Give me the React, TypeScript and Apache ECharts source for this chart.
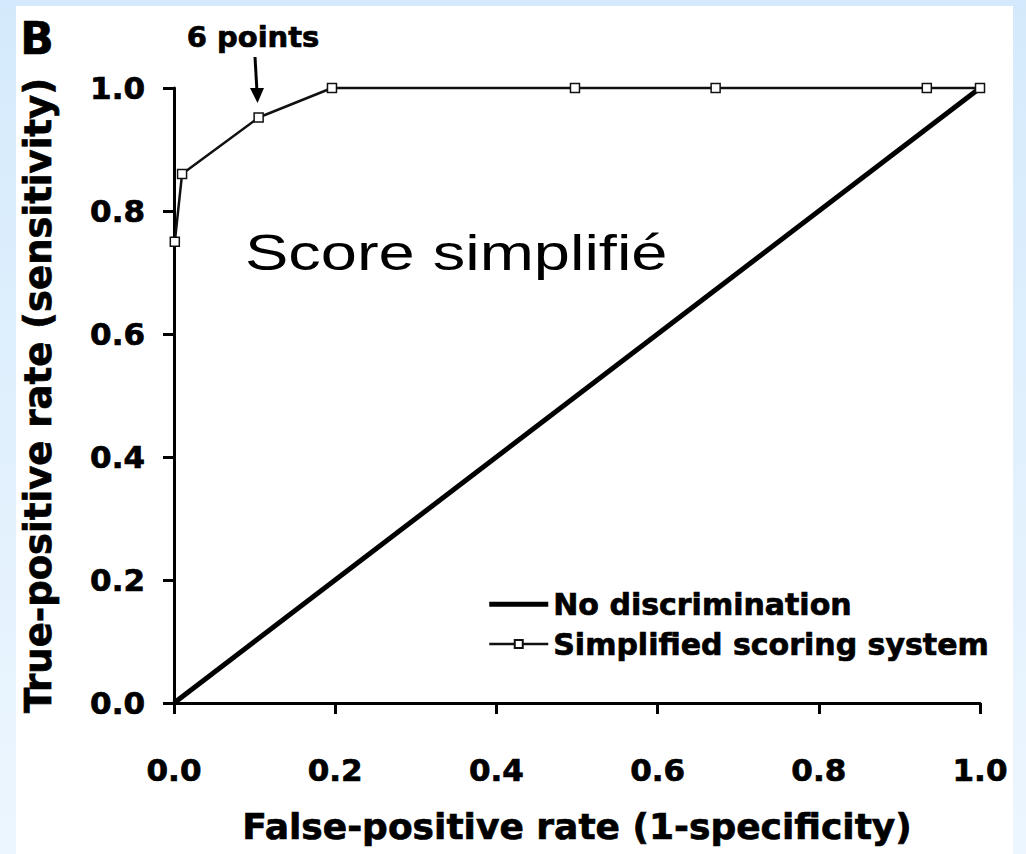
import React, { useEffect, useRef } from "react";
import * as echarts from "echarts";

const xTicks = [0, 0.2, 0.4, 0.6, 0.8, 1.0];
const noDiscrimination: [number, number][] = [
  [0, 0],
  [1, 1],
];
const simplifiedFpr = [0.001, 0.01, 0.105, 0.196, 0.4975, 0.672, 0.934, 1.0];
const simplifiedTpr = [0.75, 0.86, 0.952, 1.0, 1.0, 1.0, 1.0, 1.0];
const seriesNames = ["No discrimination", "Simplified scoring system"];
const axisTitles = ["False-positive rate (1-specificity)", "True-positive rate (sensitivity)"];
const annotation = "6 points";
const panelLabel = "B";
const overlayTitle = "Score simplifié";

const BOLD = "'DejaVu Sans', sans-serif";
const heavy = { textBorderColor: "#000", textBorderWidth: 0.7 };

export default function App() {
  const ref = useRef<HTMLDivElement>(null);
  useEffect(() => {
    document.body.style.margin = "0";
    const chart = echarts.init(ref.current!, null, { renderer: "svg" });
    const simplified = simplifiedFpr.map((x, i) => [x, simplifiedTpr[i]]);
    chart.setOption({
      animation: false,
      backgroundColor: {
        type: "linear",
        x: 0,
        y: 0,
        x2: 0,
        y2: 1,
        colorStops: [
          { offset: 0, color: "#d4eafc" },
          { offset: 1, color: "#edf6fe" },
        ],
      },
      graphic: [
        {
          type: "rect",
          z: -10,
          silent: true,
          shape: { x: 16, y: 6, width: 997, height: 860 },
          style: { fill: "#ffffff" },
        },
        {
          type: "text",
          left: 20,
          top: 16,
          style: {
            text: panelLabel,
            font: `bold 44px ${BOLD}`,
            fill: "#000",
            stroke: "#000",
            lineWidth: 0.7,
          },
        },
        {
          type: "text",
          x: 253,
          y: 37,
          style: {
            text: annotation,
            font: `bold 29px ${BOLD}`,
            fill: "#000",
            stroke: "#000",
            lineWidth: 0.7,
            align: "center",
            verticalAlign: "middle",
          },
        },
        {
          type: "line",
          shape: { x1: 255, y1: 57, x2: 257, y2: 92 },
          style: { stroke: "#000", lineWidth: 3 },
        },
        {
          type: "polygon",
          shape: {
            points: [
              [250, 88],
              [264, 88],
              [257.5, 103],
            ],
          },
          style: { fill: "#000" },
        },
        {
          type: "text",
          x: 245,
          y: 253,
          scaleX: 1.3,
          style: {
            text: overlayTitle,
            font: "50px 'Liberation Sans', Arial, sans-serif",
            fill: "#000",
            align: "left",
            verticalAlign: "middle",
          },
        },
      ],
      legend: {
        orient: "vertical",
        left: 483,
        top: 584,
        itemWidth: 59,
        itemHeight: 10,
        itemGap: 9,
        lineStyle: { width: "inherit" },
        data: [
          {
            name: seriesNames[0],
            icon: "path://M0 0H118V10H0Z",
            itemStyle: { color: "#000", borderWidth: 0 },
          },
          { name: seriesNames[1] },
        ],
        textStyle: {
          fontFamily: BOLD,
          fontWeight: "bold",
          fontSize: 30,
          color: "#000",
          padding: [0, 0, 0, 0],
          ...heavy,
        },
      },
      grid: { left: 174, right: 46, top: 88, bottom: 151 },
      xAxis: {
        type: "value",
        min: 0,
        max: 1,
        interval: 0.2,
        name: axisTitles[0],
        nameLocation: "middle",
        nameGap: 105,
        nameTextStyle: { fontFamily: BOLD, fontWeight: "bold", fontSize: 36, color: "#000", ...heavy },
        axisLine: { show: true, onZero: false, lineStyle: { color: "#000", width: 3 } },
        axisTick: { show: true, length: 11, lineStyle: { color: "#000", width: 3 } },
        axisLabel: {
          margin: 51,
          fontFamily: BOLD,
          fontWeight: "bold",
          fontSize: 31,
          color: "#000",
          ...heavy,
          formatter: (v: number) => (xTicks.includes(Math.round(v * 10) / 10) ? v.toFixed(1) : ""),
        },
        splitLine: { show: false },
      },
      yAxis: {
        type: "value",
        min: 0,
        max: 1,
        interval: 0.2,
        name: axisTitles[1],
        nameLocation: "middle",
        nameRotate: 90,
        nameGap: 117,
        nameTextStyle: { fontFamily: BOLD, fontWeight: "bold", fontSize: 37, color: "#000", ...heavy },
        axisLine: { show: true, onZero: false, lineStyle: { color: "#000", width: 3 } },
        axisTick: { show: true, length: 11, lineStyle: { color: "#000", width: 3 } },
        axisLabel: {
          margin: 29,
          fontFamily: BOLD,
          fontWeight: "bold",
          fontSize: 31,
          color: "#000",
          ...heavy,
          formatter: (v: number) => v.toFixed(1),
        },
        splitLine: { show: false },
      },
      series: [
        {
          name: seriesNames[0],
          type: "line",
          data: noDiscrimination,
          symbol: "none",
          lineStyle: { color: "#000", width: 5 },
          itemStyle: { color: "#000" },
          z: 2,
        },
        {
          name: seriesNames[1],
          type: "line",
          data: simplified,
          symbol: "rect",
          symbolSize: 9,
          showAllSymbol: true,
          clip: false,
          lineStyle: { color: "#111", width: 2.5 },
          itemStyle: { color: "#fff", borderColor: "#111", borderWidth: 1.5 },
          z: 3,
        },
      ],
    });
    return () => chart.dispose();
  }, []);
  return (
    <div
      ref={ref}
      style={{ position: "fixed", left: 0, top: 0, width: 1026, height: 854 }}
    />
  );
}
